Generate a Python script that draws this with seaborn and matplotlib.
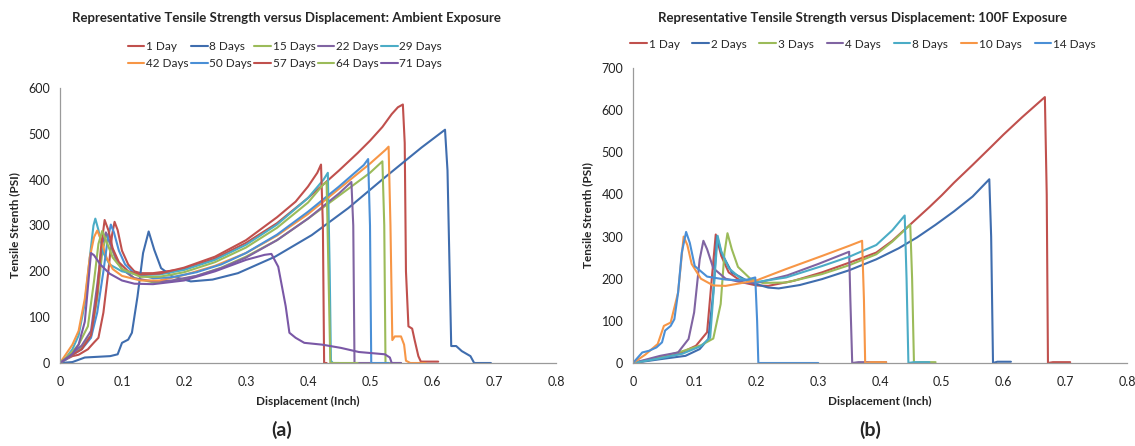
import matplotlib
matplotlib.use("Agg")
import matplotlib.pyplot as plt
import seaborn as sns
import pandas as pd
from matplotlib.ticker import FuncFormatter, MultipleLocator

sns.set_theme(style="white")
plt.rcParams['font.family'] = ['Lato', 'DejaVu Sans']

# ---------------- Panel (a): Ambient exposure ----------------
a_labels = ["1 Day", "8 Days", "15 Days", "22 Days", "29 Days",
            "42 Days", "50 Days", "57 Days", "64 Days", "71 Days"]
a_colors = ["#C0504D", "#3F6DAE", "#9BBB59", "#8064A2", "#4BACC6",
            "#F79646", "#4A8FD6", "#C0504D", "#9BBB59", "#7A58A6"]

a_1_x = [0, 0.01, 0.02, 0.03, 0.045, 0.055, 0.062, 0.07, 0.078, 0.084, 0.088, 0.093, 0.10, 0.11, 0.12, 0.13, 0.15, 0.2, 0.25, 0.3, 0.35, 0.4, 0.45, 0.48, 0.5, 0.52, 0.535, 0.545, 0.553, 0.556, 0.558, 0.562, 0.568, 0.572, 0.578, 0.582, 0.61]
a_1_y = [0, 8, 15, 18, 30, 45, 55, 110, 200, 280, 308, 290, 245, 215, 200, 196, 196, 205, 228, 262, 305, 360, 420, 458, 485, 515, 543, 558, 564, 480, 200, 80, 75, 50, 15, 3, 3]

a_8_x = [0, 0.02, 0.04, 0.081, 0.093, 0.10, 0.11, 0.116, 0.125, 0.134, 0.143, 0.152, 0.163, 0.181, 0.211, 0.246, 0.287, 0.347, 0.406, 0.465, 0.524, 0.583, 0.621, 0.625, 0.631, 0.639, 0.648, 0.662, 0.668, 0.695]
a_8_y = [0, 2, 12, 15, 19, 44, 51, 66, 145, 240, 287, 247, 207, 189, 178, 182, 196, 232, 279, 338, 405, 470, 509, 420, 37, 37, 26, 15, 0, 0]

a_15_x = [0, 0.01, 0.02, 0.035, 0.05, 0.06, 0.068, 0.075, 0.082, 0.09, 0.1, 0.12, 0.15, 0.18, 0.22, 0.26, 0.3, 0.35, 0.4, 0.45, 0.5, 0.52, 0.523, 0.525, 0.55]
a_15_y = [0, 10, 20, 35, 60, 140, 240, 282, 255, 225, 205, 185, 176, 178, 190, 208, 232, 268, 315, 365, 415, 440, 300, 0, 0]

a_22_x = [0, 0.01, 0.02, 0.035, 0.05, 0.06, 0.068, 0.074, 0.08, 0.09, 0.1, 0.12, 0.15, 0.18, 0.22, 0.26, 0.3, 0.35, 0.4, 0.45, 0.47, 0.473, 0.475, 0.5]
a_22_y = [0, 10, 22, 38, 70, 170, 260, 285, 265, 230, 205, 185, 178, 180, 190, 207, 230, 268, 315, 370, 395, 300, 0, 0]

a_29_x = [0, 0.01, 0.02, 0.03, 0.04, 0.048, 0.054, 0.057, 0.062, 0.07, 0.08, 0.1, 0.13, 0.16, 0.2, 0.25, 0.3, 0.35, 0.4, 0.425, 0.432, 0.435, 0.437, 0.44, 0.45]
a_29_y = [0, 12, 30, 60, 130, 230, 300, 315, 290, 240, 215, 200, 192, 193, 203, 225, 258, 302, 360, 400, 415, 200, 5, 0, 0]

a_42_x = [0, 0.01, 0.02, 0.03, 0.04, 0.048, 0.055, 0.06, 0.066, 0.075, 0.085, 0.1, 0.13, 0.16, 0.2, 0.25, 0.3, 0.35, 0.4, 0.45, 0.5, 0.525, 0.53, 0.533, 0.536, 0.54, 0.55, 0.555, 0.558, 0.565, 0.59]
a_42_y = [0, 20, 40, 70, 140, 230, 275, 289, 270, 230, 205, 190, 180, 180, 192, 212, 240, 278, 325, 380, 435, 465, 472, 300, 50, 58, 58, 40, 5, 0, 0]

a_50_x = [0, 0.01, 0.02, 0.035, 0.05, 0.06, 0.07, 0.077, 0.082, 0.087, 0.095, 0.105, 0.12, 0.15, 0.18, 0.22, 0.26, 0.3, 0.35, 0.4, 0.45, 0.49, 0.497, 0.5, 0.502, 0.53]
a_50_y = [0, 8, 18, 30, 55, 110, 200, 270, 302, 285, 245, 215, 195, 185, 187, 198, 215, 240, 280, 330, 385, 432, 445, 300, 0, 0]

a_57_x = [0, 0.01, 0.02, 0.035, 0.05, 0.06, 0.066, 0.072, 0.078, 0.085, 0.095, 0.11, 0.13, 0.16, 0.2, 0.25, 0.3, 0.35, 0.38, 0.4, 0.415, 0.421, 0.424, 0.426, 0.43]
a_57_y = [0, 10, 18, 30, 60, 150, 250, 312, 290, 250, 220, 200, 193, 195, 208, 232, 268, 318, 352, 385, 415, 433, 300, 0, 0]

a_64_x = [0, 0.01, 0.02, 0.03, 0.045, 0.055, 0.062, 0.068, 0.075, 0.085, 0.1, 0.13, 0.16, 0.2, 0.25, 0.3, 0.35, 0.4, 0.425, 0.43, 0.433, 0.436, 0.48]
a_64_y = [0, 12, 25, 40, 80, 180, 260, 288, 265, 230, 205, 188, 188, 198, 220, 252, 295, 350, 390, 395, 200, 0, 0]

a_71_x = [0, 0.01, 0.02, 0.03, 0.04, 0.046, 0.05, 0.055, 0.065, 0.08, 0.1, 0.12, 0.15, 0.2, 0.25, 0.3, 0.33, 0.341, 0.352, 0.364, 0.37, 0.38, 0.394, 0.423, 0.453, 0.482, 0.524, 0.532, 0.535, 0.55]
a_71_y = [0, 10, 20, 40, 90, 180, 240, 235, 215, 195, 180, 173, 172, 180, 200, 225, 236, 238, 210, 124, 66, 55, 44, 40, 33, 24, 19, 12, 0, 0]

a_xs = [a_1_x, a_8_x, a_15_x, a_22_x, a_29_x, a_42_x, a_50_x, a_57_x, a_64_x, a_71_x]
a_ys = [a_1_y, a_8_y, a_15_y, a_22_y, a_29_y, a_42_y, a_50_y, a_57_y, a_64_y, a_71_y]

# ---------------- Panel (b): 100F exposure ----------------
b_labels = ["1 Day", "2 Days", "3 Days", "4 Days", "8 Days", "10 Days", "14 Days"]
b_colors = ["#C0504D", "#3F6DAE", "#9BBB59", "#8064A2", "#4BACC6", "#F79646", "#4A8FD6"]

b_1_x = [0, 0.03, 0.073, 0.102, 0.12, 0.128, 0.134, 0.143, 0.155, 0.178, 0.2, 0.219, 0.26, 0.306, 0.35, 0.394, 0.42, 0.45, 0.48, 0.5, 0.52, 0.55, 0.58, 0.6, 0.63, 0.667, 0.67, 0.672, 0.68, 0.708]
b_1_y = [0, 8, 21, 41, 73, 207, 305, 254, 215, 191, 184, 183, 195, 215, 238, 262, 290, 330, 370, 398, 428, 470, 513, 542, 583, 631, 400, 0, 2, 2]

b_2_x = [0, 0.044, 0.085, 0.108, 0.122, 0.13, 0.136, 0.143, 0.16, 0.19, 0.219, 0.236, 0.27, 0.306, 0.35, 0.394, 0.43, 0.46, 0.49, 0.52, 0.55, 0.577, 0.58, 0.583, 0.59, 0.612]
b_2_y = [0, 9, 17, 33, 57, 167, 301, 262, 215, 191, 179, 177, 185, 199, 220, 246, 272, 298, 328, 360, 395, 436, 300, 0, 3, 3]

b_3_x = [0, 0.04, 0.08, 0.11, 0.13, 0.142, 0.148, 0.153, 0.16, 0.17, 0.19, 0.21, 0.248, 0.306, 0.35, 0.394, 0.42, 0.449, 0.452, 0.455, 0.465, 0.49]
b_3_y = [0, 12, 28, 42, 58, 140, 260, 308, 270, 228, 200, 190, 191, 211, 232, 258, 288, 328, 200, 0, 2, 2]

b_4_x = [0, 0.044, 0.073, 0.09, 0.099, 0.108, 0.114, 0.12, 0.13, 0.15, 0.18, 0.2, 0.25, 0.3, 0.35, 0.352, 0.355, 0.365, 0.41]
b_4_y = [0, 17, 25, 57, 120, 246, 290, 270, 225, 200, 190, 190, 208, 235, 264, 150, 0, 2, 2]

b_8_x = [0, 0.04, 0.08, 0.11, 0.125, 0.131, 0.137, 0.143, 0.155, 0.175, 0.2, 0.248, 0.306, 0.35, 0.394, 0.42, 0.44, 0.443, 0.446, 0.455, 0.48]
b_8_y = [0, 10, 22, 40, 60, 180, 302, 265, 225, 200, 192, 203, 230, 252, 280, 315, 350, 200, 0, 2, 2]

b_10_x = [0, 0.02, 0.04, 0.05, 0.061, 0.073, 0.082, 0.088, 0.095, 0.11, 0.13, 0.15, 0.2, 0.248, 0.306, 0.35, 0.371, 0.374, 0.376, 0.385, 0.41]
b_10_y = [0, 20, 45, 88, 96, 167, 300, 280, 235, 200, 184, 183, 196, 223, 254, 278, 290, 150, 0, 2, 2]

b_14_x = [0, 0.015, 0.026, 0.038, 0.047, 0.052, 0.061, 0.067, 0.073, 0.079, 0.086, 0.092, 0.1, 0.12, 0.15, 0.18, 0.198, 0.201, 0.203, 0.30]
b_14_y = [0, 25, 29, 37, 49, 77, 88, 104, 167, 262, 311, 285, 230, 205, 198, 196, 203, 100, 0, 0]

b_xs = [b_1_x, b_2_x, b_3_x, b_4_x, b_8_x, b_10_x, b_14_x]
b_ys = [b_1_y, b_2_y, b_3_y, b_4_y, b_8_y, b_10_y, b_14_y]

# ---------------- Figure ----------------
fig = plt.figure(figsize=(11.35, 4.46), dpi=100)
W, H = 1135, 446

def px_axes(x0, x1, y_top, y_bot):
    return fig.add_axes([x0 / W, 1 - y_bot / H, (x1 - x0) / W, (y_bot - y_top) / H])

ax_a = px_axes(60, 556, 88, 363)
ax_b = px_axes(633, 1127, 68, 363)

def draw(ax, labels, colors, xs, ys):
    for lab, col, x, y in zip(labels, colors, xs, ys):
        df = pd.DataFrame({"x": x, "y": y})
        sns.lineplot(data=df, x="x", y="y", ax=ax, color=col, lw=1.5,
                     sort=False, estimator=None, label=lab, legend=False)

draw(ax_a, a_labels, a_colors, a_xs, a_ys)
draw(ax_b, b_labels, b_colors, b_xs, b_ys)

fmt = FuncFormatter(lambda v, p: "0" if abs(v) < 1e-9 else f"{v:g}")
for ax, ymax in ((ax_a, 600), (ax_b, 700)):
    ax.set_xlim(0, 0.8)
    ax.set_ylim(0, ymax)
    ax.xaxis.set_major_locator(MultipleLocator(0.1))
    ax.yaxis.set_major_locator(MultipleLocator(100))
    ax.xaxis.set_major_formatter(fmt)
    for s in ("top", "right"):
        ax.spines[s].set_visible(False)
    for s in ("left", "bottom"):
        ax.spines[s].set_color("#9A9A9A")
        ax.spines[s].set_linewidth(0.9)
    ax.tick_params(axis="both", direction="out", length=4, width=0.8,
                   color="#9A9A9A", labelsize=9, labelcolor="#222222", pad=3)
    ax.tick_params(axis="x", pad=5)
    ax.set_xlabel("Displacement (Inch)", fontsize=8.5, fontweight="bold", labelpad=6)
    ax.set_ylabel("Tensile Strenth (PSI)", fontsize=8.5, fontweight="bold", labelpad=6)
    ax.set_facecolor("white")

# titles
fig.text(286 / W, 1 - 18 / H, "Representative Tensile Strength versus Displacement: Ambient Exposure",
         ha="center", va="center", fontsize=9.5, fontweight="bold")
fig.text(863 / W, 1 - 18 / H, "Representative Tensile Strength versus Displacement: 100F Exposure",
         ha="center", va="center", fontsize=9.5, fontweight="bold")

# legends (row-major ordering)
ha, la = ax_a.get_legend_handles_labels()
order = [0, 5, 1, 6, 2, 7, 3, 8, 4, 9]
leg_a = fig.legend([ha[i] for i in order], [la[i] for i in order], ncol=5,
                   loc="center", bbox_to_anchor=(285 / W, 1 - 55 / H), frameon=False,
                   fontsize=8.5, handlelength=1.4, handletextpad=0.15, columnspacing=0.2,
                   labelspacing=0.45)
hb, lb = ax_b.get_legend_handles_labels()
leg_b = fig.legend(hb, lb, ncol=7, loc="center", bbox_to_anchor=(863 / W, 1 - 44 / H),
                   frameon=False, fontsize=8.5, handlelength=1.4, handletextpad=0.15,
                   columnspacing=1.1)

fig.text(282 / W, 1 - 430 / H, "(a)", ha="center", va="center", fontsize=14, fontweight="bold")
fig.text(870 / W, 1 - 430 / H, "(b)", ha="center", va="center", fontsize=14, fontweight="bold")

fig.savefig("out.png", dpi=100, facecolor="white")
